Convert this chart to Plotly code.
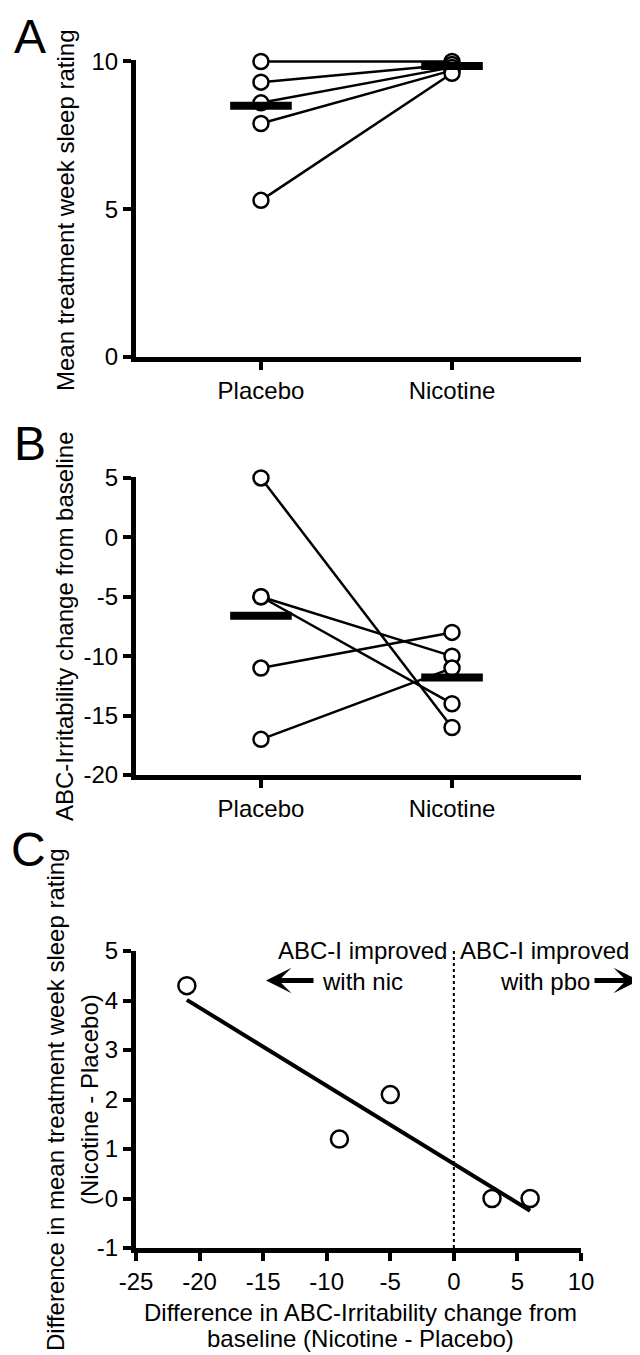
import numpy as np
import plotly.graph_objects as go

# ---------------- data ----------------
categories = ["Placebo", "Nicotine"]

# Panel A: mean treatment week sleep rating
a_placebo = [10.0, 9.3, 8.6, 7.9, 5.3]
a_nicotine = [10.0, 9.9, 9.8, 9.7, 9.6]
a_means = [8.5, 9.85]
a_ticks = [0, 5, 10]
a_ticktext = ["0", "5", "10"]

# Panel B: ABC-Irritability change from baseline
b_placebo = [5, -5, -5, -11, -17]
b_nicotine = [-16, -10, -14, -8, -11]
b_means = [-6.6, -11.8]
b_ticks = [-20, -15, -10, -5, 0, 5]
b_ticktext = ["-20", "-15", "-10", "-5", "0", "5"]

# Panel C: differences (Nicotine - Placebo)
c_x = [-21, -9, -5, 3, 6]
c_y = [4.3, 1.2, 2.1, 0.0, 0.0]
c_xticks = [-25, -20, -15, -10, -5, 0, 5, 10]
c_xticktext = ["-25", "-20", "-15", "-10", "-5", "0", "5", "10"]
c_yticks = [-1, 0, 1, 2, 3, 4, 5]
c_yticktext = ["-1", "0", "1", "2", "3", "4", "5"]

# ---------------- layout helpers ----------------
# page body has an 8px default margin, so the figure is shifted by OFF
OFF = 8
W, H = 640 - OFF, 1355 - OFF
FONT = "Arial, 'Liberation Sans', Helvetica, sans-serif"


def px(p):
    return (p - OFF) / W


def py(p):
    return 1 - (p - OFF) / H


cat_pos = list(range(len(categories)))

fig = go.Figure()


def paired_panel(pl, nc, means, xa, ya):
    for p, n in zip(pl, nc):
        fig.add_trace(go.Scatter(
            x=[cat_pos[0], cat_pos[1]], y=[p, n], mode="lines",
            line=dict(color="black", width=2.5), xaxis=xa, yaxis=ya,
            showlegend=False, hoverinfo="skip", cliponaxis=False))
    fig.add_trace(go.Scatter(
        x=[cat_pos[0]] * len(pl) + [cat_pos[1]] * len(nc), y=list(pl) + list(nc),
        mode="markers", xaxis=xa, yaxis=ya, showlegend=False, cliponaxis=False,
        marker=dict(symbol="circle", size=15, color="white",
                    line=dict(color="black", width=2.5))))
    fig.add_trace(go.Scatter(
        x=cat_pos, y=means, mode="markers", xaxis=xa, yaxis=ya,
        showlegend=False, cliponaxis=False,
        marker=dict(symbol="line-ew", size=44, color="black",
                    line=dict(color="black", width=8))))


paired_panel(a_placebo, a_nicotine, a_means, "x", "y")
paired_panel(b_placebo, b_nicotine, b_means, "x2", "y2")

# Panel C regression line
slope, intercept = np.polyfit(c_x, c_y, 1)
xr = np.array([min(c_x), max(c_x)])
fig.add_trace(go.Scatter(
    x=xr, y=slope * xr + intercept, mode="lines",
    line=dict(color="black", width=4), xaxis="x3", yaxis="y3",
    showlegend=False, cliponaxis=False))
fig.add_trace(go.Scatter(
    x=c_x, y=c_y, mode="markers", xaxis="x3", yaxis="y3",
    showlegend=False, cliponaxis=False,
    marker=dict(symbol="circle", size=17, color="rgba(255,255,255,0)",
                line=dict(color="black", width=2.5))))

axis_common = dict(
    showline=True, linewidth=5, linecolor="black", ticks="outside",
    ticklen=8, tickwidth=4, tickcolor="black", showgrid=False,
    zeroline=False, tickfont=dict(size=24, color="black", family=FONT),
    fixedrange=True, automargin=False)

xdom = [px(136), px(581)]
cat_range = [-0.654, 1.675]

fig.update_layout(
    template=go.layout.Template(),
    width=W, height=H,
    margin=dict(l=0, r=0, t=0, b=0, pad=0, autoexpand=False),
    paper_bgcolor="white", plot_bgcolor="white",
    font=dict(family=FONT, color="black", size=24),
    xaxis=dict(axis_common, domain=xdom, range=cat_range, anchor="y",
               tickvals=cat_pos, ticktext=categories),
    yaxis=dict(axis_common, domain=[py(357), py(60)], range=[0, 10.05],
               anchor="x", tickvals=a_ticks, ticktext=a_ticktext),
    xaxis2=dict(axis_common, domain=xdom, range=cat_range, anchor="y2",
                tickvals=cat_pos, ticktext=categories),
    yaxis2=dict(axis_common, domain=[py(775), py(477)], range=[-20, 5.08],
                anchor="x2", tickvals=b_ticks, ticktext=b_ticktext),
    xaxis3=dict(axis_common, domain=xdom, range=[-25, 10], anchor="y3",
                tickvals=c_xticks, ticktext=c_xticktext),
    yaxis3=dict(axis_common, domain=[py(1248), py(951)], range=[-1, 5],
                anchor="x3", tickvals=c_yticks, ticktext=c_yticktext),
)

# dotted vertical line at x = 0 in panel C
fig.add_shape(type="line", xref="x3", yref="y3", x0=0, x1=0, y0=-1, y1=5,
              line=dict(color="black", width=2, dash="dot"))

ann = []


def txt(text, x, y, size=24, angle=0, xanchor="center", yanchor="middle", align="center"):
    ann.append(dict(text=text, x=px(x), y=py(y), xref="paper", yref="paper",
                    showarrow=False, textangle=angle, xanchor=xanchor,
                    yanchor=yanchor, align=align,
                    font=dict(size=size, color="black", family=FONT)))


# panel letters
txt("A", 30, OFF, size=48, yanchor="top")
txt("B", 30, 443, size=48)
txt("C", 29, 849, size=48)

# axis titles
txt("Mean treatment week sleep rating", 65, 210, angle=-90)
txt("ABC-Irritability change from baseline", 64, 626, angle=-90)
txt("Difference in mean treatment week sleep rating", 55, 1100, angle=-90)
txt("(Nicotine - Placebo)", 89, 1100, angle=-90)
txt("Difference in ABC-Irritability change from", 360, 1312)
txt("baseline (Nicotine - Placebo)", 360, 1338)

# panel C inline labels
txt("ABC-I improved", 362, 950)
txt("with nic", 362, 981)
txt("ABC-I improved", 544, 950)
txt("with pbo", 545, 981)

# arrows
for tip, tail in [(266, 315), (639, 593)]:
    ann.append(dict(x=px(tip), y=py(980.5), xref="paper", yref="paper",
                    ax=tail - tip, ay=0, axref="pixel", ayref="pixel",
                    text="", showarrow=True, arrowhead=3, arrowsize=0.85,
                    arrowwidth=5, arrowcolor="black"))

fig.update_layout(annotations=ann)

fig.write_html("out.html")
